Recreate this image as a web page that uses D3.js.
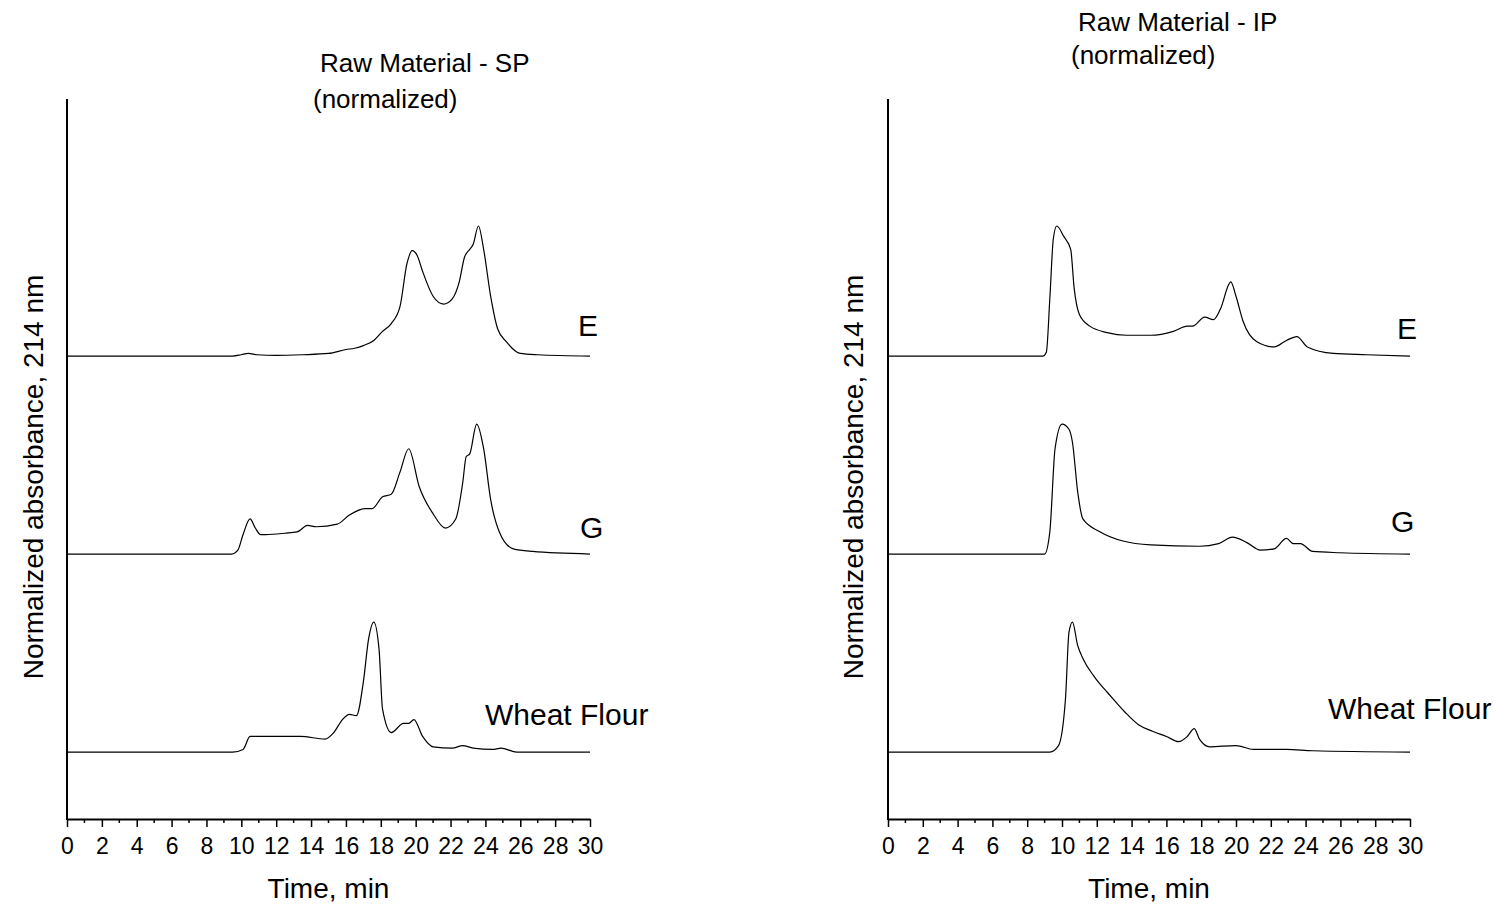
<!DOCTYPE html>
<html>
<head>
<meta charset="utf-8">
<script src="https://cdn.jsdelivr.net/npm/d3@7"></script>
<style>
  body { margin: 0; background: #fff; }
  svg { display: block; font-family: "Liberation Sans", Arial, sans-serif; }
</style>
</head>
<body>
<svg id="chart" width="1505" height="908"></svg>
<script>
// ---------- DATA (time in min, normalized absorbance; tallest peak = 1) ----------
const xTicks = [0, 2, 4, 6, 8, 10, 12, 14, 16, 18, 20, 22, 24, 26, 28, 30];
const sampleNames = ["Wheat Flour", "G", "E"];

const spE = [[0,0],[9.5,0],[10.0,0.01],[10.4,0.02],[10.9,0.01],[12,0.005],[13.5,0.01],[15,0.02],[16,0.05],[16.5,0.06],[17,0.08],[17.6,0.12],[18.1,0.19],[18.6,0.25],[19.1,0.38],[19.5,0.71],[19.8,0.81],[20.1,0.77],[20.4,0.65],[21.0,0.46],[21.6,0.40],[22.1,0.44],[22.5,0.57],[22.8,0.76],[23.1,0.82],[23.3,0.86],[23.6,1.0],[23.9,0.82],[24.3,0.46],[24.7,0.21],[25.2,0.11],[26,0.02],[27,0.01],[30,0]];
const spG = [[0,0],[9.45,0],[9.8,0.03],[10.1,0.15],[10.5,0.27],[10.8,0.2],[11.1,0.15],[11.4,0.15],[12.5,0.16],[13.2,0.17],[13.8,0.22],[14.3,0.21],[15.5,0.23],[16.2,0.30],[17.1,0.35],[17.5,0.35],[18.1,0.44],[18.6,0.46],[19.1,0.63],[19.6,0.81],[20.2,0.52],[21.0,0.31],[21.7,0.20],[22.3,0.27],[22.7,0.55],[22.9,0.75],[23.1,0.77],[23.5,1.0],[23.9,0.81],[24.3,0.42],[24.8,0.17],[25.6,0.04],[26.7,0.02],[30,0]];
const spWF = [[0,0],[9.5,0],[10.1,0.02],[10.5,0.12],[10.9,0.12],[13.4,0.12],[14.8,0.10],[15.3,0.15],[15.8,0.25],[16.2,0.29],[16.6,0.28],[17.0,0.54],[17.3,0.87],[17.6,1.0],[17.9,0.79],[18.1,0.33],[18.6,0.15],[19.3,0.22],[19.6,0.22],[19.9,0.25],[20.4,0.12],[21.0,0.04],[22.1,0.03],[22.7,0.05],[23.3,0.03],[24.4,0.02],[24.9,0.03],[25.8,0],[30,0]];

const ipE = [[0,0],[8.9,0],[9.1,0.03],[9.3,0.44],[9.5,0.90],[9.7,1.0],[10.1,0.92],[10.5,0.82],[10.7,0.52],[11.0,0.32],[11.6,0.23],[12.6,0.18],[13.7,0.16],[15.1,0.16],[16.4,0.19],[17.2,0.23],[17.5,0.23],[18.2,0.30],[18.7,0.28],[19.1,0.36],[19.7,0.57],[20.0,0.46],[20.4,0.27],[21.2,0.11],[22.2,0.07],[22.9,0.12],[23.5,0.15],[24.1,0.07],[25.6,0.02],[27.5,0.01],[30,0]];
const ipG = [[0,0],[9.0,0],[9.3,0.17],[9.6,0.81],[10.0,1.0],[10.4,0.96],[10.6,0.86],[10.9,0.48],[11.2,0.27],[12.2,0.17],[13.5,0.10],[15.1,0.07],[17.9,0.06],[19.0,0.08],[19.8,0.13],[20.6,0.09],[21.4,0.03],[22.2,0.04],[22.9,0.12],[23.3,0.08],[23.7,0.08],[24.4,0.02],[26,0.01],[30,0]];
const ipWF = [[0,0],[9.3,0],[9.8,0.05],[10.2,0.41],[10.4,0.92],[10.6,1.0],[10.9,0.82],[11.2,0.72],[11.8,0.59],[12.2,0.52],[12.6,0.46],[13.6,0.31],[14.4,0.21],[15.2,0.16],[16.0,0.12],[16.7,0.08],[17.2,0.12],[17.6,0.18],[17.9,0.10],[18.5,0.04],[20.0,0.05],[21.0,0.02],[22.9,0.02],[24.4,0.01],[30,0]];

// vertical stacking offsets (same units as absorbance) for Wheat Flour, G, E
const offsets = [0, 1.523, 3.046];

const panels = [
  { title: ["Raw Material - SP", "(normalized)"], series: [spWF, spG, spE] },
  { title: ["Raw Material - IP", "(normalized)"], series: [ipWF, ipG, ipE] }
];

// ---------- LAYOUT ----------
const svg = d3.select("#chart");
const layout = [
  { x0: 67, x1: 590, titleX: [320, 313], titleY: [72, 108], ylabX: 43,
    labels: [{x: 485, y: 725}, {x: 580, y: 538}, {x: 578, y: 336}] },
  { x0: 888, x1: 1410, titleX: [1078, 1071], titleY: [31, 64], ylabX: 863,
    labels: [{x: 1328, y: 719}, {x: 1391, y: 532}, {x: 1397, y: 339}] }
];
const yTop = 99, yBot = 819;

panels.forEach((p, i) => {
  const L = layout[i];
  const x = d3.scaleLinear().domain([0, 30]).range([L.x0, L.x1]);
  const y = d3.scaleLinear().domain([-0.515, 5.023]).range([yBot, yTop]);
  const g = svg.append("g");

  // traces
  const line = d3.line().x(d => x(d[0])).y(d => y(d[1])).curve(d3.curveMonotoneX);
  p.series.forEach((s, k) => {
    g.append("path")
      .datum(s.map(d => [d[0], d[1] + offsets[k]]))
      .attr("d", line)
      .attr("fill", "none")
      .attr("stroke", "#000")
      .attr("stroke-width", 1.2);
    g.append("text")
      .attr("x", L.labels[k].x).attr("y", L.labels[k].y)
      .attr("font-size", 30).attr("fill", "#000")
      .text(sampleNames[k]);
  });

  // y axis (no labels)
  g.append("line")
    .attr("x1", L.x0).attr("x2", L.x0).attr("y1", yTop).attr("y2", yBot + 1)
    .attr("stroke", "#000").attr("stroke-width", 2);

  // x axis
  const xAxis = d3.axisBottom(x).tickValues(xTicks).tickSize(8).tickSizeOuter(0).tickPadding(11);
  const ax = g.append("g").attr("transform", `translate(0,${yBot})`).call(xAxis);
  ax.select(".domain").attr("stroke", "#000").attr("stroke-width", 2);
  ax.selectAll(".tick line").attr("stroke", "#000").attr("stroke-width", 1.5);
  ax.selectAll(".tick text").attr("font-size", 23).attr("fill", "#000")
    .attr("font-family", "Liberation Sans, Arial, sans-serif");
  const minor = d3.range(1, 30, 2);
  g.append("g").selectAll("line").data(minor).join("line")
    .attr("x1", d => x(d)).attr("x2", d => x(d))
    .attr("y1", yBot).attr("y2", yBot + 4)
    .attr("stroke", "#000").attr("stroke-width", 1.5);

  // axis titles
  g.append("text")
    .attr("x", (L.x0 + L.x1) / 2).attr("y", 898)
    .attr("text-anchor", "middle").attr("font-size", 28).attr("fill", "#000")
    .text("Time, min");
  g.append("text")
    .attr("transform", `translate(${L.ylabX},477) rotate(-90)`)
    .attr("text-anchor", "middle").attr("font-size", 28).attr("fill", "#000")
    .text("Normalized absorbance, 214 nm");

  // chart title
  p.title.forEach((t, j) => {
    g.append("text")
      .attr("x", L.titleX[j]).attr("y", L.titleY[j])
      .attr("font-size", 26).attr("fill", "#000")
      .text(t);
  });
});
</script>
</body>
</html>
